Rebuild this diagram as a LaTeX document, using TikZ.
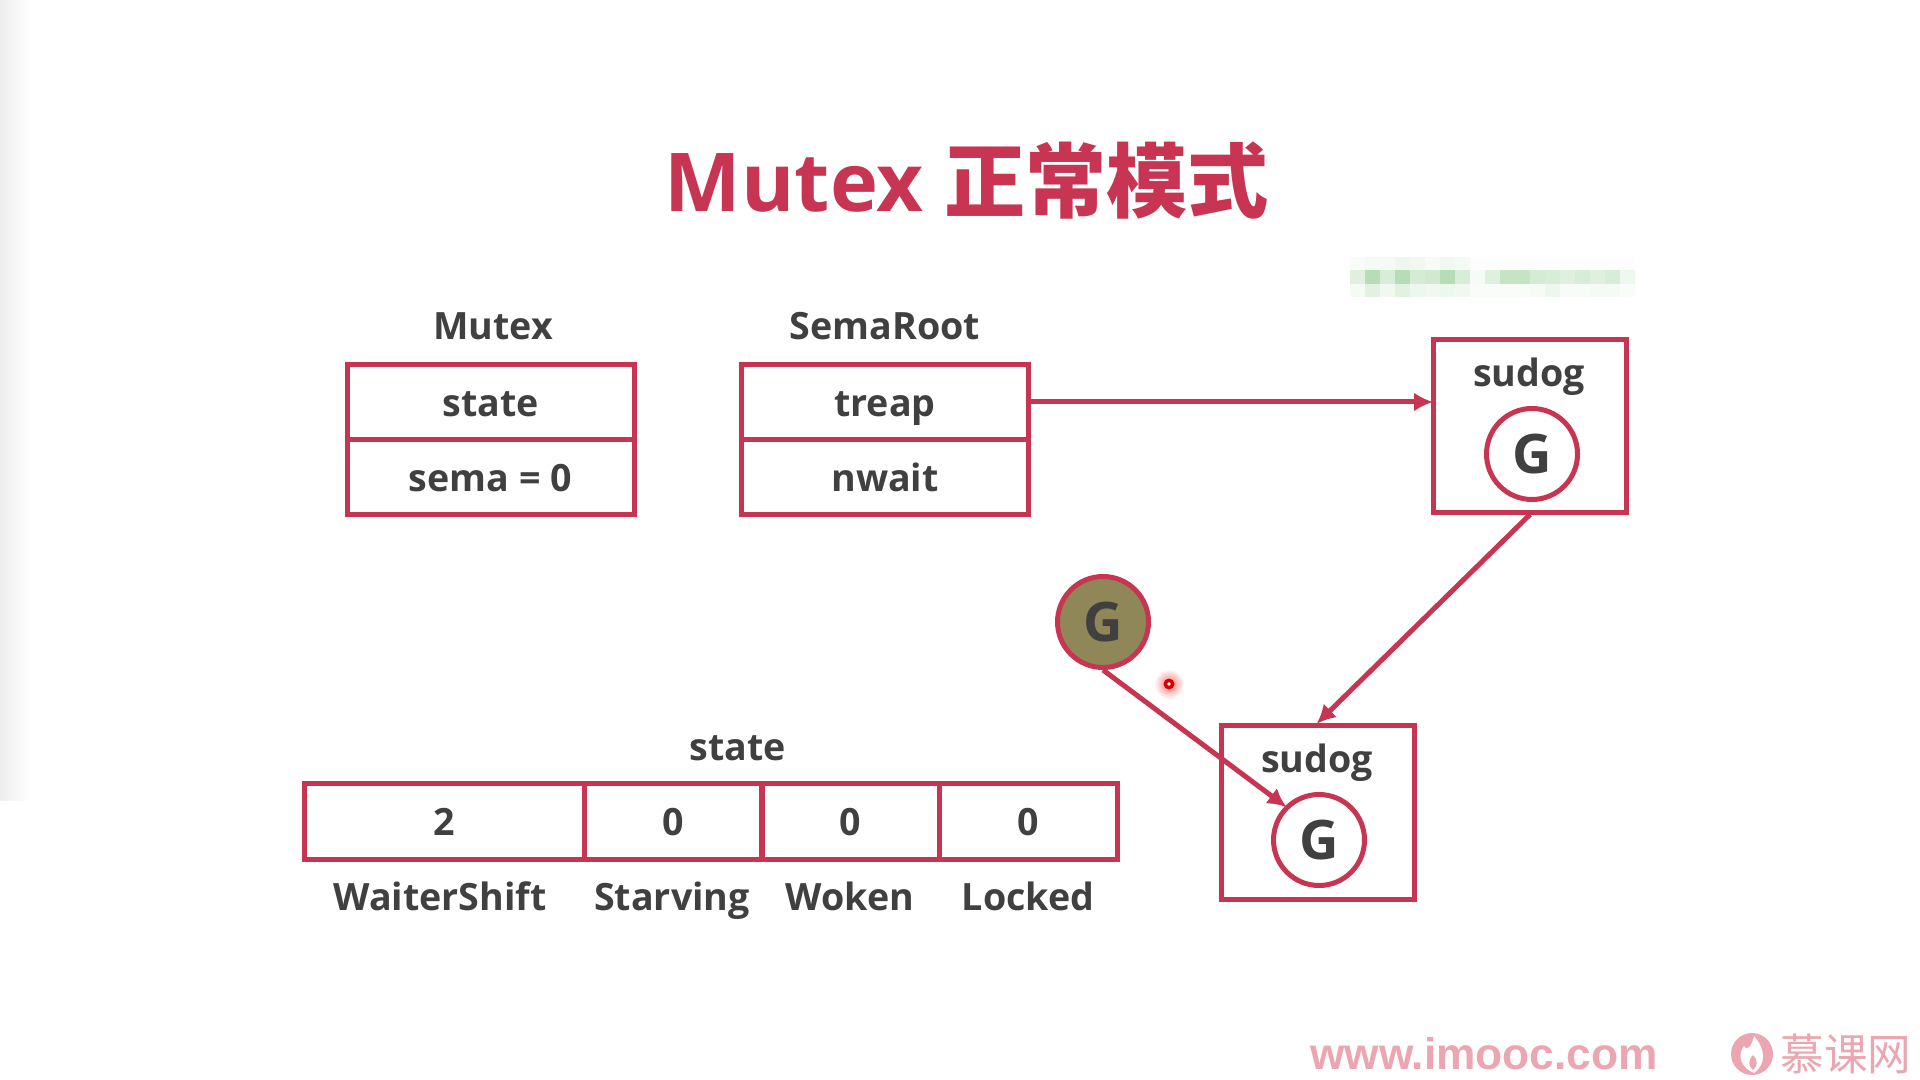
\documentclass[tikz,border=0pt]{standalone}
\usepackage{fontspec}
\setmainfont{Open Sans}
\newfontfamily\cjkfont{Noto Sans CJK SC}
\newfontfamily\markfont{Liberation Sans}
\usetikzlibrary{arrows.meta}
\definecolor{mutexred}{HTML}{C73552}
\definecolor{textgray}{HTML}{404040}
\definecolor{oldgreen}{HTML}{8F8757}
\definecolor{markpink}{HTML}{EBA6B1}
\definecolor{blurgreen}{HTML}{8ECB8E}
\tikzset{
  cellbox/.style={draw=mutexred, line width=0.05cm, text=textgray, font=\fontsize{10.7}{14}\selectfont\bfseries,
    inner sep=0pt, minimum height=0.75cm, text height=0.36cm, text depth=0.07cm},
  caption/.style={text=textgray, font=\fontsize{10.7}{14}\selectfont\bfseries, inner sep=0pt,
    text height=0.36cm, text depth=0.07cm},
  sudogbox/.style={draw=mutexred, line width=0.05cm, minimum width=1.93cm, minimum height=1.72cm, inner sep=0pt},
  gcircle/.style={circle, draw=mutexred, line width=0.05cm, fill=white, text=textgray,
    font=\fontsize{15.5}{18}\selectfont\bfseries, minimum size=0.91cm, inner sep=0pt},
  link/.style={draw=mutexred, line width=0.05cm, shorten >=-0.02cm, -{Latex[length=0.19cm,width=0.19cm]}}
}
\begin{document}
\begin{tikzpicture}[y=-1cm]
    \useasboundingbox (0,0) rectangle (19.2,10.8);
    % Left edge shade
    \fill[left color=black!7, right color=white] (0,0) rectangle (0.3,8.0);
    % Title
    \node[text=mutexred, inner sep=0pt, font=\fontsize{23.1}{28}\selectfont\bfseries] (title) at (9.67,1.80)
      {Mutex {\cjkfont 正常模式}};
    % Blurred patch
    \foreach \v [count=\i from 0] in {5,10,10,16,13,8,13,10,3,3,3,3,3,3,3,3,3,3,3}
      \fill[blurgreen!\v] (13.50+\i*0.15,2.57) rectangle +(0.151,0.135);
    \foreach \v [count=\i from 0] in {28,65,35,65,38,42,65,35,8,28,52,52,38,35,28,35,28,35,14}
      \fill[blurgreen!\v] (13.50+\i*0.15,2.705) rectangle +(0.151,0.135);
    \foreach \v [count=\i from 0] in {10,26,13,26,16,13,16,13,5,5,5,5,8,16,6,6,10,10,5}
      \fill[blurgreen!\v] (13.50+\i*0.15,2.84) rectangle +(0.151,0.135);
    % Mutex table
    \node[caption] (mutexlabel) at (4.93,3.25) {Mutex};
    \node[cellbox, minimum width=2.87cm] (state) at (4.905,4.02) {state};
    \node[cellbox, minimum width=2.87cm] (sema) at (4.905,4.77) {sema = 0};
    % SemaRoot table
    \node[caption] (rootlabel) at (8.85,3.25) {SemaRoot};
    \node[cellbox, minimum width=2.87cm] (treap) at (8.85,4.02) {treap};
    \node[cellbox, minimum width=2.87cm] (nwait) at (8.85,4.77) {nwait};
    % Sudog boxes
    \node[sudogbox] (sudogtop) at (15.30,4.26) {};
    \node[caption] (sudogtoplabel) at (15.29,3.72) {sudog};
    \node[gcircle] (gtop) at (15.32,4.54) {G};
    \node[sudogbox, minimum height=1.74cm] (sudoglow) at (13.18,8.12) {};
    \node[caption] (sudoglowlabel) at (13.17,7.58) {sudog};
    \node[gcircle] (glow) at (13.19,8.40) {G};
    \node[gcircle, fill=oldgreen] (gold) at (11.03,6.22) {G};
    % Links
    \draw[link] (treap.east) -- (treap.east -| sudogtop.west);
    \draw[link] (sudogtop.south) -- (sudoglow.north);
    \draw[link] (gold.south) -- (glow.north west);
    % Pointer dot
    \shade[inner color=red!55, outer color=white] (11.69,6.84) circle (0.15);
    \fill[red!85!black] (11.69,6.84) circle (0.055);
    \fill[white] (11.69,6.84) circle (0.018);
    % State bits
    \node[caption] (bitslabel) at (7.38,7.46) {state};
    \node[cellbox, minimum width=2.80cm, minimum height=0.76cm] (waiter) at (4.44,8.21) {2};
    \node[cellbox, minimum width=1.78cm, minimum height=0.76cm] (starving) at (6.73,8.21) {0};
    \node[cellbox, minimum width=1.78cm, minimum height=0.76cm] (woken) at (8.50,8.21) {0};
    \node[cellbox, minimum width=1.78cm, minimum height=0.76cm] (locked) at (10.28,8.21) {0};
    \node[caption] (waiterlabel) at (4.40,8.96) {WaiterShift};
    \node[caption] (starvinglabel) at (6.72,8.96) {Starving};
    \node[caption] (wokenlabel) at (8.50,8.96) {Woken};
    \node[caption] (lockedlabel) at (10.28,8.96) {Locked};
    % Watermark
    \node[text=markpink, inner sep=0pt, font=\fontsize{12.6}{14}\markfont\bfseries] (site) at (14.84,10.54) {www.imooc.com};
    \fill[markpink] (17.52,10.54) circle (0.21);
    \fill[white] (17.54,10.36) .. controls (17.66,10.50) and (17.66,10.64) .. (17.54,10.73)
      .. controls (17.42,10.68) and (17.36,10.56) .. (17.44,10.46) .. controls (17.47,10.52) and (17.52,10.46) .. (17.54,10.36);
    \fill[markpink] (17.53,10.55) .. controls (17.58,10.60) and (17.58,10.66) .. (17.53,10.70)
      .. controls (17.48,10.66) and (17.48,10.60) .. (17.53,10.55);
    \node[text=markpink, inner sep=0pt, font=\fontsize{12.4}{14}\cjkfont] (brand) at (18.46,10.54) {慕课网};
  \end{tikzpicture}
\end{document}
